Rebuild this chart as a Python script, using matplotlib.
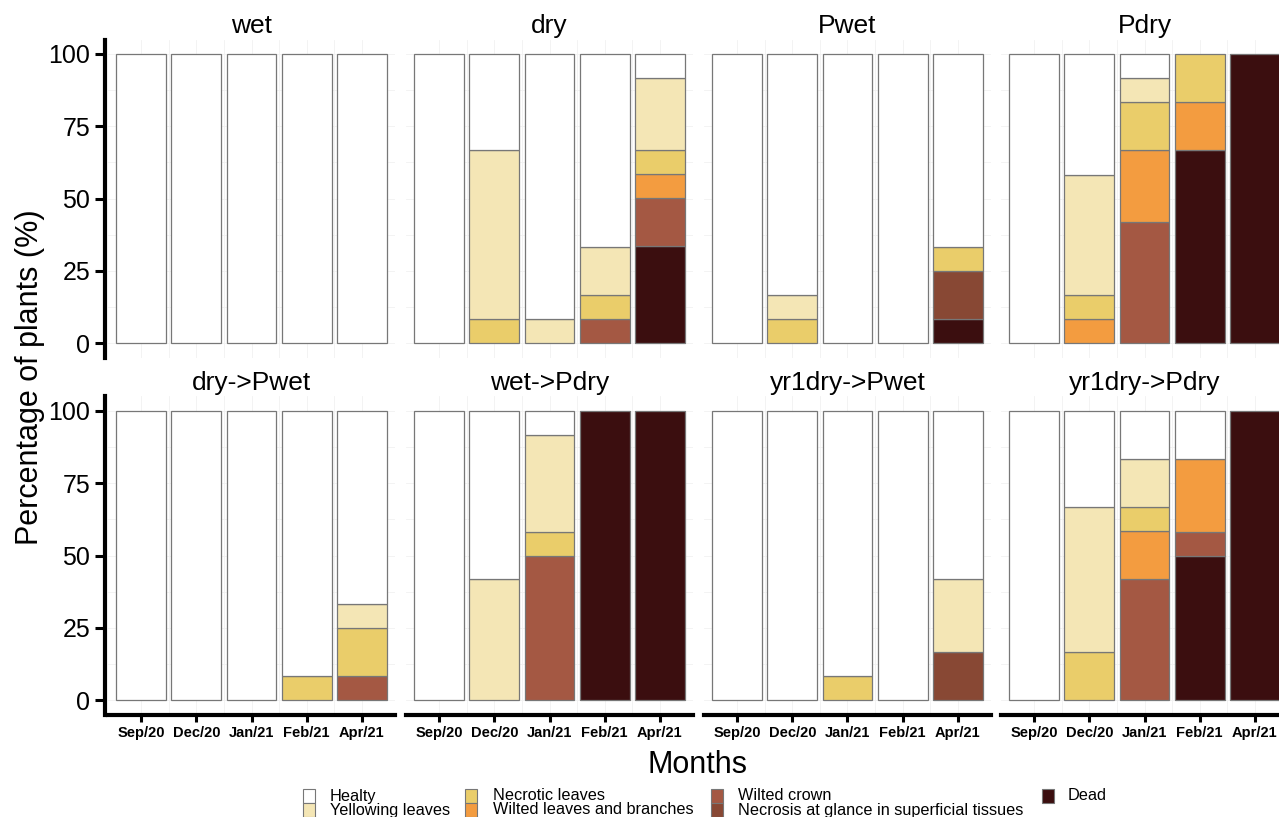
import numpy as np
import matplotlib.pyplot as plt
from matplotlib.patches import Rectangle

plt.rcParams['font.family'] = ['Liberation Sans', 'DejaVu Sans']

months = ['Sep/20', 'Dec/20', 'Jan/21', 'Feb/21', 'Apr/21']
symptoms = ['Healty', 'Yellowing leaves', 'Necrotic leaves', 'Wilted leaves and branches',
            'Wilted crown', 'Necrosis at glance in superficial tissues', 'Dead']
colors = ['#FFFFFF', '#F4E6B5', '#EACD6A', '#F39C40', '#A45843', '#884834', '#3B0E0F']

# percentage of plants per symptom (rows in symptom order), one column per month
wet = [[100, 100, 100, 100, 100],
       [0, 0, 0, 0, 0],
       [0, 0, 0, 0, 0],
       [0, 0, 0, 0, 0],
       [0, 0, 0, 0, 0],
       [0, 0, 0, 0, 0],
       [0, 0, 0, 0, 0]]
dry = [[100, 33.3, 91.7, 66.7, 8.3],
       [0, 58.4, 8.3, 16.7, 25.0],
       [0, 8.3, 0, 8.3, 8.3],
       [0, 0, 0, 0, 8.3],
       [0, 0, 0, 8.3, 16.7],
       [0, 0, 0, 0, 0],
       [0, 0, 0, 0, 33.4]]
pwet = [[100, 83.4, 100, 100, 66.7],
        [0, 8.3, 0, 0, 0],
        [0, 8.3, 0, 0, 8.3],
        [0, 0, 0, 0, 0],
        [0, 0, 0, 0, 0],
        [0, 0, 0, 0, 16.7],
        [0, 0, 0, 0, 8.3]]
pdry = [[100, 41.7, 8.3, 0, 0],
        [0, 41.7, 8.3, 0, 0],
        [0, 8.3, 16.7, 16.7, 0],
        [0, 8.3, 25.0, 16.6, 0],
        [0, 0, 41.7, 0, 0],
        [0, 0, 0, 0, 0],
        [0, 0, 0, 66.7, 100]]
dry_pwet = [[100, 100, 100, 91.7, 66.7],
            [0, 0, 0, 0, 8.3],
            [0, 0, 0, 8.3, 16.7],
            [0, 0, 0, 0, 0],
            [0, 0, 0, 0, 8.3],
            [0, 0, 0, 0, 0],
            [0, 0, 0, 0, 0]]
wet_pdry = [[100, 58.3, 8.3, 0, 0],
            [0, 41.7, 33.4, 0, 0],
            [0, 0, 8.3, 0, 0],
            [0, 0, 0, 0, 0],
            [0, 0, 50.0, 0, 0],
            [0, 0, 0, 0, 0],
            [0, 0, 0, 100, 100]]
yr1_pwet = [[100, 100, 91.7, 100, 58.3],
            [0, 0, 0, 0, 25.0],
            [0, 0, 8.3, 0, 0],
            [0, 0, 0, 0, 0],
            [0, 0, 0, 0, 0],
            [0, 0, 0, 0, 16.7],
            [0, 0, 0, 0, 0]]
yr1_pdry = [[100, 33.3, 16.7, 16.7, 0],
            [0, 50.0, 16.6, 0, 0],
            [0, 16.7, 8.3, 0, 0],
            [0, 0, 16.7, 25.0, 0],
            [0, 0, 41.7, 8.3, 0],
            [0, 0, 0, 0, 0],
            [0, 0, 0, 50.0, 100]]

panel_names = ['wet', 'dry', 'Pwet', 'Pdry', 'dry->Pwet', 'wet->Pdry', 'yr1dry->Pwet', 'yr1dry->Pdry']
panel_data = [wet, dry, pwet, pdry, dry_pwet, wet_pdry, yr1_pwet, yr1_pdry]

W, H = 1279, 817
fig = plt.figure(figsize=(W / 100, H / 100), dpi=100)

lefts = [108, 406, 704, 1001]
tops = [39.5, 396.5]
pw, ph = 287, 318
x = np.arange(1, 6)

for i, (name, data) in enumerate(zip(panel_names, panel_data)):
    r, c = divmod(i, 4)
    ax = fig.add_axes([lefts[c] / W, 1 - (tops[r] + ph) / H, pw / W, ph / H])
    data = np.array(data, dtype=float)
    bottom = np.zeros(5)
    # stack from Dead (bottom) to Healty (top)
    for k in range(len(symptoms) - 1, -1, -1):
        vals = data[k]
        m = vals > 0
        ax.bar(x[m], vals[m], width=0.9, bottom=bottom[m], color=colors[k],
               edgecolor='#777777', linewidth=0.9, zorder=3)
        bottom += vals
    ax.set_xlim(0.4, 5.6)
    ax.set_ylim(-5, 105)
    ax.set_yticks([0, 25, 50, 75, 100])
    ax.set_yticks([12.5, 37.5, 62.5, 87.5], minor=True)
    ax.set_xticks(x)
    ax.set_xticks(x[:-1] + 0.5, minor=True)
    ax.grid(True, which='both', color='#F1F1F1', linewidth=0.6, zorder=0)
    ax.set_title(name, fontsize=19, pad=4.5)
    for s in ['top', 'right']:
        ax.spines[s].set_visible(False)
    ax.tick_params(which='minor', length=0)
    if c == 0:
        ax.spines['left'].set_linewidth(3)
        ax.spines['left'].set_position(('outward', 2))
        ax.tick_params(axis='y', length=7.2, width=2.2, labelsize=18, pad=3.6)
    else:
        ax.spines['left'].set_visible(False)
        ax.tick_params(axis='y', length=0, labelleft=False)
    if r == 1:
        ax.spines['bottom'].set_linewidth(3)
        ax.spines['bottom'].set_capstyle('projecting')
        ax.set_xticklabels(months, fontsize=10.5, fontweight='bold')
        ax.tick_params(axis='x', length=5, width=2.2, pad=3)
    else:
        ax.spines['bottom'].set_visible(False)
        ax.tick_params(axis='x', length=0, labelbottom=False)

fig.text(30 / W, 1 - 377 / H, 'Percentage of plants (%)', rotation=90,
         fontsize=22, ha='center', va='center')
fig.text(697 / W, 1 - 765 / H, 'Months', fontsize=22, ha='center', va='center')

# legend, two rows per column
key_x = [303, 465, 711, 1042]
txt_x = [330, 493, 738, 1068]
row_top = [789, 803]
for k, (lab, col) in enumerate(zip(symptoms, colors)):
    c, r = divmod(k, 2)
    fig.add_artist(Rectangle((key_x[c] / W, 1 - (row_top[r] + 14) / H), 12 / W, 14 / H,
                             transform=fig.transFigure, facecolor=col,
                             edgecolor='#777777', linewidth=0.8))
    fig.text(txt_x[c] / W, 1 - (row_top[r] + 7) / H, lab, fontsize=11.7,
             ha='left', va='center')

fig.savefig('out.png', dpi=100)
